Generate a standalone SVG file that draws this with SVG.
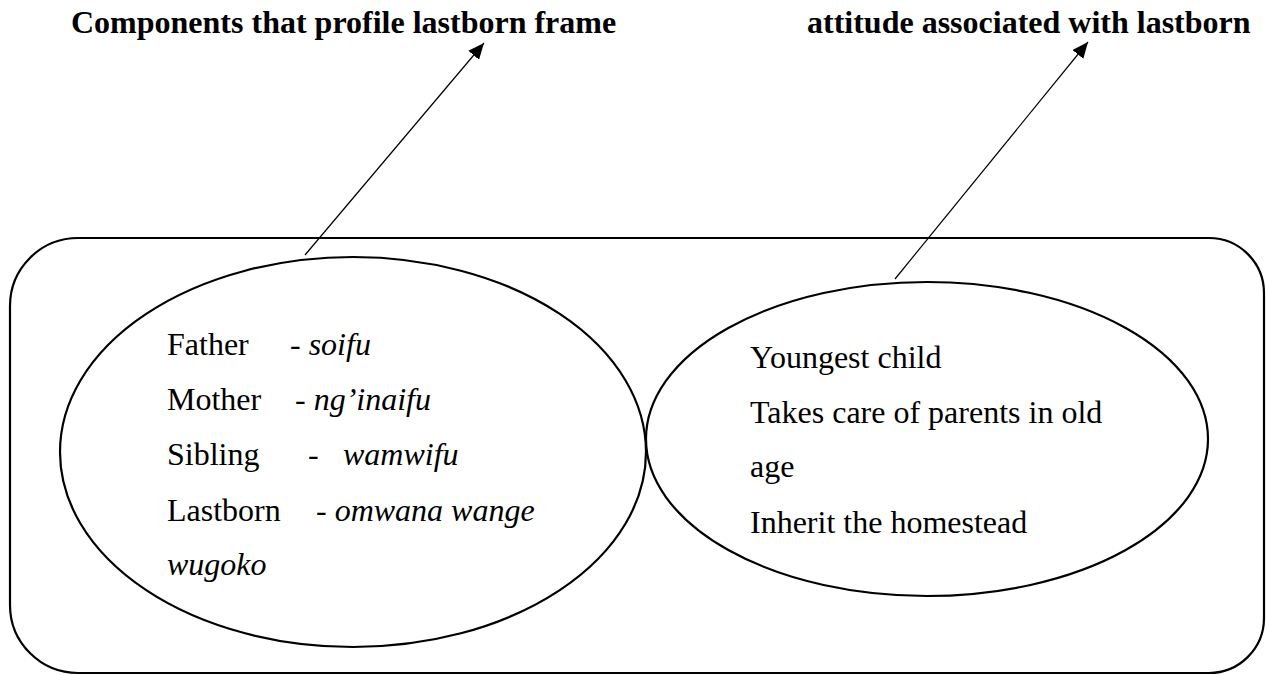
<svg xmlns="http://www.w3.org/2000/svg" width="1266" height="675" viewBox="0 0 1266 675">
  <style>
    text { font-family: "Liberation Serif", "Times New Roman", Tinos, "DejaVu Serif", serif; fill: #000; }
    .title { font-size: 32px; font-weight: bold; }
    .body { font-size: 32px; }
    .it { font-style: italic; }
    .shape { fill: none; stroke: #000; stroke-width: 2.2; }
    .link { fill: none; stroke: #000; stroke-width: 1.2; }
  </style>
  <defs>
    <marker id="arrow" viewBox="0 0 16 14" refX="16" refY="7" markerWidth="16" markerHeight="14" markerUnits="userSpaceOnUse" orient="auto">
      <path d="M0,0 L16,7 L0,14 Z" fill="#000"/>
    </marker>
  </defs>
  <rect width="1266" height="675" fill="#fff"/>

  <!-- headings -->
  <g id="heading-components">
    <text class="title" font-family="Liberation Serif, serif" x="71" y="33">Components that profile lastborn frame</text>
  </g>
  <g id="heading-attitude">
    <text class="title" font-family="Liberation Serif, serif" x="807" y="33">attitude associated with lastborn</text>
  </g>

  <!-- enclosing frame -->
  <g id="frame">
    <path class="shape" d="M78,238 H1209 A55,55 0 0 1 1264,293 V618 A55,55 0 0 1 1209,673 H78 A68,68 0 0 1 10,605 V306 A68,68 0 0 1 78,238 Z"/>
  </g>

  <!-- left set: frame components -->
  <g id="components">
    <ellipse class="shape" cx="353" cy="452" rx="293" ry="195"/>
    <text class="body" x="167" y="355">Father</text>
    <text class="body" x="290" y="355">- <tspan class="it">soifu</tspan></text>
    <text class="body" x="167" y="410">Mother</text>
    <text class="body" x="295" y="410">- <tspan class="it">ng’inaifu</tspan></text>
    <text class="body" x="167" y="465">Sibling</text>
    <text class="body" x="308" y="465">-</text>
    <text class="body it" x="343" y="465">wamwifu</text>
    <text class="body" x="167" y="521">Lastborn</text>
    <text class="body" x="316" y="521">- <tspan class="it">omwana wange</tspan></text>
    <text class="body it" x="167" y="575">wugoko</text>
  </g>

  <!-- right set: attitudes -->
  <g id="attitudes">
    <ellipse class="shape" cx="927" cy="439" rx="281" ry="157"/>
    <text class="body" x="750" y="368">Youngest child</text>
    <text class="body" x="750" y="423">Takes care of parents in old</text>
    <text class="body" x="750" y="477">age</text>
    <text class="body" x="750" y="533">Inherit the homestead</text>
  </g>

  <!-- connectors -->
  <g id="connectors">
    <line class="link" x1="305" y1="255" x2="484" y2="43" marker-end="url(#arrow)"/>
    <line class="link" x1="895" y1="279" x2="1088" y2="42" marker-end="url(#arrow)"/>
  </g>
</svg>
